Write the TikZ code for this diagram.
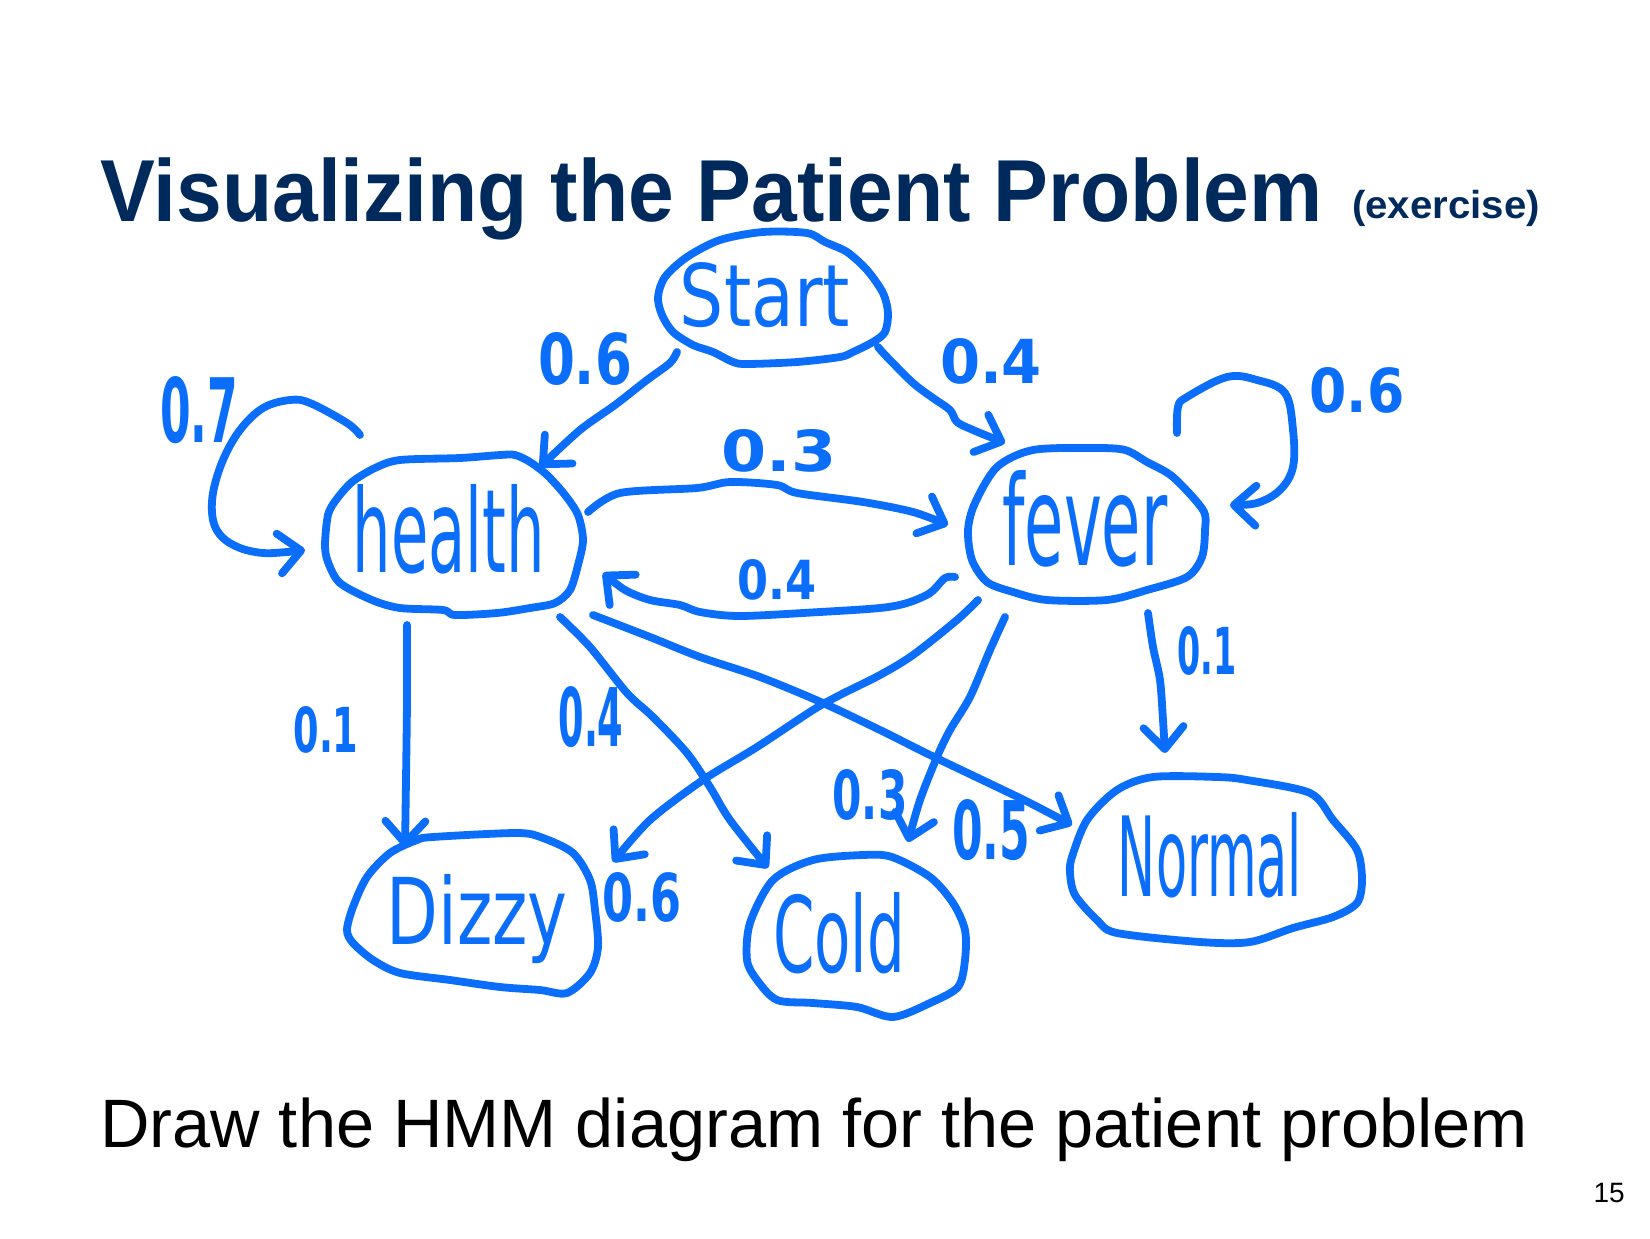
\documentclass[tikz,border=0pt]{standalone}
\usepackage{fontspec}
\setmainfont{Liberation Sans}
\newfontfamily\handfont{DejaVu Sans Condensed}
\usetikzlibrary{arrows.meta}
\definecolor{ink}{HTML}{0A6EFA}
\definecolor{navy}{HTML}{012A5C}
% hand-lettered word squeezed into a given width x height (pt)
\newcommand\handw[3]{\resizebox{#1pt}{#2pt}{\handfont #3}}
% hand-lettered probability, heavier strokes
\newcommand\handp[3]{\resizebox{#1pt}{#2pt}{\handfont\bfseries #3}}

\begin{document}
\begin{tikzpicture}[x=1pt,y=1pt,
  blob/.style={draw=ink,line width=7.8pt,line cap=round,line join=round},
  conn/.style={draw=ink,line width=7.8pt,line cap=round,line join=round,
    -{Straight Barb[length=22pt,width=40pt,line cap=round,line join=round]}},
  state/.style={inner sep=0pt,text=ink},
  lbl/.style={inner sep=0pt,text=ink}]
\fill[white] (0,0) rectangle (1650,-1239);
\useasboundingbox (0,0) rectangle (1650,-1239);

% headings
\node[anchor=base west,inner sep=0pt,text=navy,font=\bfseries\fontsize{88}{100}\selectfont]
  (title) at (100,-221) {\scalebox{0.934}[1]{Visualizing the Patient Problem}};
\node[anchor=base west,inner sep=0pt,text=navy,font=\bfseries\fontsize{39}{45}\selectfont]
  (exercise) at (1352,-218) {\scalebox{1.03}[1]{(exercise)}};
\node[anchor=base west,inner sep=0pt,font=\fontsize{68.5}{80}\selectfont]
  (task) at (100,-1147) {Draw the HMM diagram for the patient problem};
\node[anchor=base east,inner sep=0pt,font=\fontsize{28}{32}\selectfont]
  (page) at (1625,-1202) {15};

% states
\node[state] (start)  at (765,-295)  {\handw{170}{64}{Start}};
\node[state] (health) at (449,-529)  {\handw{192}{88}{health}};
\node[state] (fever)  at (1085,-519) {\handw{165}{95}{fever}};
\node[state] (dizzy)  at (477,-919)  {\handw{181}{70}{Dizzy}};
\node[state] (cold)   at (839,-933)  {\handw{132}{80}{Cold}};
\node[state] (normal) at (1210,-855) {\handw{184}{84}{Normal}};

% hand-drawn outlines round the states
\draw[blob] plot[smooth cycle,tension=0.5] coordinates {
  (658,-297) (665,-277) (687,-257) (720,-240) (763,-232) (807,-233) (825,-242)
  (847,-252) (867,-270) (883,-293) (888,-313) (885,-332) (873,-342) (853,-352)
  (840,-357) (797,-362) (747,-364) (733,-362) (713,-352) (693,-345) (673,-332) (662,-315)};
\draw[blob] plot[smooth cycle,tension=0.5] coordinates {
  (325,-545) (328,-515) (336,-500) (352,-482) (375,-468) (400,-460) (460,-458)
  (500,-455) (515,-455) (530,-462) (547,-475) (565,-495) (578,-515) (583,-540)
  (578,-565) (570,-590) (555,-603) (530,-608) (497,-613) (455,-615) (443,-610)
  (400,-608) (372,-600) (340,-583) (328,-562)};
\draw[blob] plot[smooth cycle,tension=0.5] coordinates {
  (968,-530) (975,-503) (997,-467) (1033,-450) (1093,-448) (1125,-450)
  (1147,-462) (1173,-477) (1203,-510) (1205,-530) (1202,-557) (1187,-577)
  (1147,-590) (1107,-600) (1047,-600) (1013,-592) (987,-582) (972,-560)};
\draw[blob] plot[smooth cycle,tension=0.5] coordinates {
  (347,-930) (353,-907) (367,-877) (390,-853) (417,-840) (433,-837) (517,-833)
  (543,-838) (573,-853) (590,-880) (595,-910) (598,-947) (590,-973) (567,-993)
  (540,-990) (500,-987) (450,-980) (400,-973) (373,-960) (353,-943)};
\draw[blob] plot[smooth cycle,tension=0.5] coordinates {
  (747,-960) (750,-923) (773,-880) (813,-860) (863,-855) (892,-857) (930,-877)
  (953,-903) (965,-930) (965,-960) (958,-987) (930,-1003) (893,-1017)
  (857,-1007) (813,-1003) (777,-1000) (757,-980)};
\draw[blob] plot[smooth cycle,tension=0.5] coordinates {
  (1070,-873) (1072,-857) (1087,-820) (1117,-790) (1153,-777) (1217,-777)
  (1247,-780) (1310,-793) (1333,-820) (1357,-850) (1362,-880) (1357,-903)
  (1333,-917) (1293,-928) (1250,-942) (1200,-942) (1117,-933) (1097,-920) (1075,-895)};

% probabilities
\node[lbl] (pSH) at (585,-359)  {\handp{94}{52}{0.6}};
\node[lbl] (pSF) at (991,-361)  {\handp{102}{45}{0.4}};
\node[lbl] (pHH) at (199,-410)  {\handp{78}{66}{0.7}};
\node[lbl] (pHF) at (779,-451)  {\handp{115}{42}{0.3}};
\node[lbl] (pFH) at (777,-580)  {\handp{79}{40}{0.4}};
\node[lbl] (pFF) at (1357,-390) {\handp{95}{45}{0.6}};
\node[lbl] (pHD) at (326,-730)  {\handp{65}{46}{0.1}};
\node[lbl] (pHC) at (591,-717)  {\handp{65}{60}{0.4}};
\node[lbl] (pFD) at (642,-897)  {\handp{79}{49}{0.6}};
\node[lbl] (pFC) at (870,-795)  {\handp{75}{50}{0.3}};
\node[lbl] (pHN) at (991,-830)  {\handp{78}{60}{0.5}};
\node[lbl] (pFN) at (1207,-651) {\handp{59}{48}{0.1}};

% transitions
\draw[conn] plot[smooth,tension=0.5] coordinates {([shift={(-88,-57)}]start.center)
  (670,-363) (647,-380) (615,-405) (580,-430) ([shift={(91,62)}]health.center)};
\draw[conn] plot[smooth,tension=0.5] coordinates {([shift={(113,-52)}]start.center)
  (887,-357) (913,-383) (933,-398) (950,-410) (957,-422) (973,-430) (990,-437)
  ([shift={(-80,76)}]fever.center)};
\draw[conn] plot[smooth,tension=0.6] coordinates {([shift={(-89,94)}]health.center)
  (347,-423) (310,-403) (290,-400) (263,-408) (240,-430) (223,-460) (213,-493)
  (213,-520) (222,-537) (240,-548) (263,-553) (287,-552) ([shift={(-144,-21)}]health.center)};
\draw[conn] plot[smooth,tension=0.6] coordinates {([shift={(92,86)}]fever.center)
  (1178,-407) (1187,-397) (1227,-377) (1257,-380) (1285,-393) (1293,-430)
  (1293,-467) (1280,-490) (1257,-503) ([shift={(145,14)}]fever.center)};
\draw[conn] plot[smooth,tension=0.5] coordinates {([shift={(139,17)}]health.center)
  (620,-493) (697,-488) (730,-482) (777,-485) (797,-493) (863,-502) (913,-512)
  ([shift={(-137,-6)}]fever.center)};
\draw[conn] plot[smooth,tension=0.5] coordinates {([shift={(-130,-58)}]fever.center)
  (945,-578) (930,-593) (907,-603) (880,-608) (820,-612) (740,-616) (700,-612)
  (680,-605) (650,-600) (625,-590) ([shift={(154,-44)}]health.center)};
\draw[conn] plot[smooth,tension=0.5] coordinates {([shift={(-42,-96)}]health.center)
  (407,-700) (406,-780) ([shift={(-72,72)}]dizzy.center)};
\draw[conn] plot[smooth,tension=0.5] coordinates {([shift={(111,-88)}]health.center)
  (590,-647) (627,-693) (653,-717) (687,-753) (710,-787) (730,-820)
  ([shift={(-71,65)}]cold.center)};
\draw[conn] plot[smooth,tension=0.5] coordinates {([shift={(144,-86)}]health.center)
  (650,-637) (700,-657) (760,-677) (823,-703) (880,-730) (930,-755) (997,-787)
  (1030,-803) ([shift={(-138,30)}]normal.center)};
\draw[conn] plot[smooth,tension=0.5] coordinates {([shift={(-107,-81)}]fever.center)
  (957,-620) (913,-655) (880,-675) (840,-695) (813,-710) (757,-747) (703,-780)
  (650,-820) ([shift={(136,57)}]dizzy.center)};
\draw[conn] plot[smooth,tension=0.5] coordinates {([shift={(-80,-98)}]fever.center)
  (990,-650) (970,-697) (950,-730) (937,-757) (920,-800) ([shift={(69,91)}]cold.center)};
\draw[conn] plot[smooth,tension=0.5] coordinates {([shift={(63,-94)}]fever.center)
  (1153,-647) (1160,-680) (1163,-720) ([shift={(-45,102)}]normal.center)};
\end{tikzpicture}
\end{document}
